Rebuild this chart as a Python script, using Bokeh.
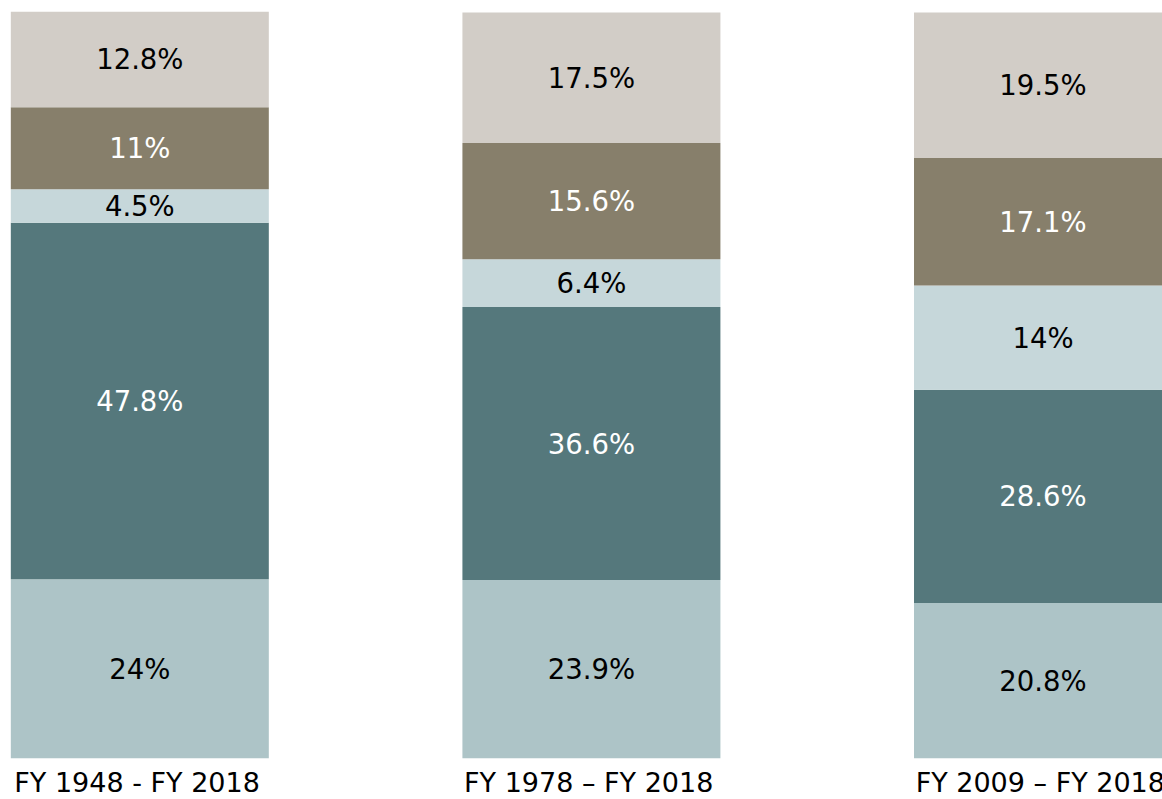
import numpy as np
from bokeh.plotting import figure
from bokeh.models import ColumnDataSource, Range1d
from bokeh.core.properties import value
from bokeh.embed import file_html
from bokeh.resources import INLINE

# ---- data ----
periods = ["FY 1948 - FY 2018", "FY 1978 \u2013 FY 2018", "FY 2009 \u2013 FY 2018"]
seg1 = [24.0, 23.9, 20.8]   # bottom
seg2 = [47.8, 36.6, 28.6]
seg3 = [4.5, 6.4, 14.0]
seg4 = [11.0, 15.6, 17.1]
seg5 = [12.8, 17.5, 19.5]   # top
series = [seg1, seg2, seg3, seg4, seg5]
colors = ["#adc4c7", "#55787c", "#c6d7da", "#877f6b", "#d2cdc7"]
text_colors = ["#000000", "#ffffff", "#000000", "#ffffff", "#000000"]

FONT = "DejaVu Sans"
FSIZE = "27.5px"
LSIZE = "27px"
x = np.arange(len(periods), dtype=float)

p = figure(width=1162, height=799, output_backend="svg", toolbar_location=None,
           x_range=Range1d(-0.3085, 2.2646), y_range=Range1d(-5.54, 101.61),
           min_border=0)
p.outline_line_color = None
p.xgrid.visible = False
p.ygrid.visible = False
p.xaxis.visible = False
p.yaxis.visible = False
p.background_fill_color = "white"
p.border_fill_color = "white"

bottom = np.zeros(len(periods))
for vals, col, tcol in zip(series, colors, text_colors):
    vals = np.array(vals)
    top = bottom + vals
    src = ColumnDataSource(dict(x=x, bottom=bottom.copy(), top=top,
                                mid=(bottom + top) / 2,
                                label=[f"{v:g}%" for v in vals]))
    p.vbar(x="x", width=0.5713, bottom="bottom", top="top", source=src,
           fill_color=col, line_color=None)
    p.text(x="x", y="mid", text="label", source=src, text_align="center",
           text_baseline="middle", text_color=tcol, text_font=value(FONT),
           text_font_size=FSIZE)
    bottom = top

# category labels under the bars
lab_src = ColumnDataSource(dict(x=x - 0.006, y=np.full(len(x), -3.3), label=periods))
p.text(x="x", y="y", text="label", source=lab_src, text_align="center",
       text_baseline="middle", text_color="#000000", text_font=value(FONT),
       text_font_size=LSIZE)

open("out.html", "w").write(file_html(p, INLINE))
